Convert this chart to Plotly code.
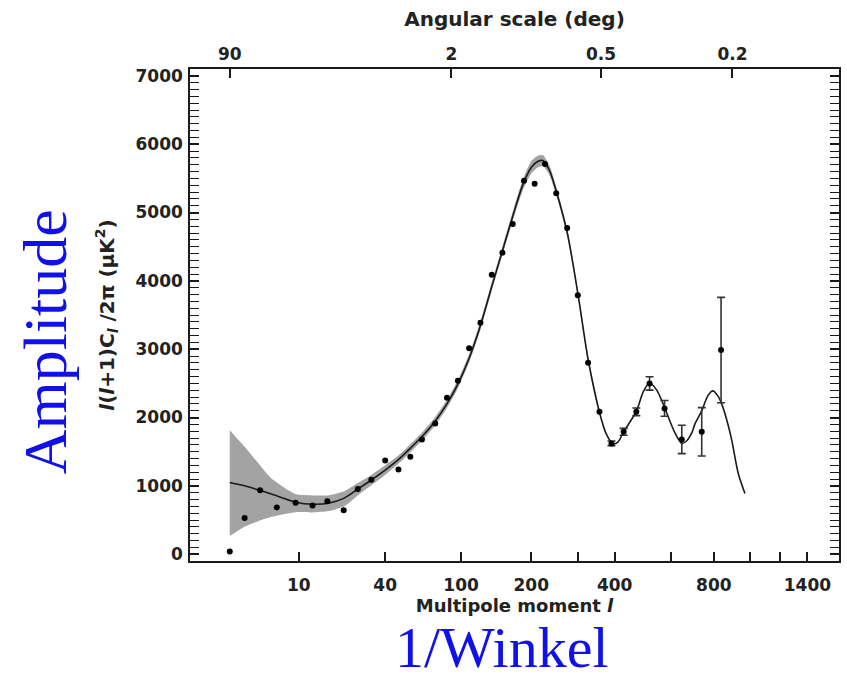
import numpy as np
import plotly.graph_objects as go

# ---- data ----
# measured band powers: multipole l, D_l = l(l+1)C_l/2pi (uK^2)
data_l = [2, 3, 4.4, 6.4, 9.4, 12.9, 16.7, 21.8, 27.1, 33, 40, 47.7, 55.5, 64, 74.9,
          85.6, 96.6, 109, 122.6, 137.4, 152.6, 168.5, 187.2, 206.3, 226.1, 249.4,
          273.6, 298.9, 325, 355.7]
data_d = [40, 531, 937, 684, 751, 713, 776, 644, 952, 1088, 1370, 1240, 1425, 1679, 1913,
          2289, 2537, 3012, 3387, 4089, 4411, 4832, 5466, 5422, 5710, 5281,
          4773, 3788, 2801, 2083]
# high-l points with visible error bars
hl_l = [390.4, 428.3, 470.4, 517.8, 575.5, 647.8, 739.7, 837.8]
hl_d = [1621, 1791, 2083, 2499, 2133, 1679, 1791, 2987]
hl_err = [35, 50, 55, 98, 115, 207, 354, 771]

# best-fit model curve and its grey uncertainty band
model_l = [2, 3, 4, 5.7, 9.4, 13, 17, 22, 27, 33, 40, 48, 56, 65, 75, 86, 97, 110, 123,
           137, 153, 170, 185, 200, 212, 222, 235, 250, 274, 300, 325, 356, 375, 395,
           410, 428, 470, 495, 518, 545, 575, 619, 648, 670, 692, 708, 740, 770, 795,
           820, 840, 870, 896, 933, 972]
model_d = [1050, 1000, 950, 880, 760, 730, 745, 820, 950, 1085, 1230, 1390, 1560, 1740,
           1950, 2210, 2500, 2900, 3360, 3900, 4450, 4990, 5400, 5660, 5745, 5760, 5620,
           5300, 4700, 3780, 2850, 2070, 1760, 1615, 1640, 1790, 2085, 2380, 2505, 2400,
           2150, 1770, 1620, 1660, 1770, 1910, 2100, 2320, 2390, 2320, 2206, 1950, 1669,
           1181, 889]
band_l = [2, 3, 4, 5.7, 9.4, 13, 17, 22, 27, 33, 40, 48, 56, 65, 75, 86, 97, 110, 123,
          137, 153, 170, 185, 200, 212, 222, 235, 250, 274, 300, 325, 356]
band_hi = [1815, 1572, 1369, 1108, 880, 860, 860, 920, 1040, 1160, 1300, 1450, 1620, 1800,
           2010, 2270, 2560, 2960, 3420, 3960, 4510, 5060, 5480, 5750, 5830, 5840, 5690,
           5360, 4750, 3820, 2890, 2100]
band_lo = [265, 400, 470, 546, 615, 610, 630, 700, 860, 1010, 1160, 1330, 1500, 1680,
           1890, 2150, 2440, 2840, 3300, 3840, 4390, 4920, 5320, 5570, 5660, 5680, 5550,
           5240, 4650, 3740, 2810, 2040]

x_ticks = [10, 40, 100, 200, 300, 400, 600, 800, 1000, 1200, 1400]
x_labels = ["10", "40", "100", "200", "", "400", "", "800", "", "", "1400"]
ang_ticks = [90, 2, 0.5, 0.2]
ang_labels = ["90", "2", "0.5", "0.2"]
y_ticks = [0, 1000, 2000, 3000, 4000, 5000, 6000, 7000]


def sc(l):
    """axis scale of the reference: position proportional to l^(1/4)"""
    return np.asarray(l, dtype=float) ** 0.25


FONT = "DejaVu Sans"
INK = "#1a1a1a"
TXT = "#222222"
TICKFONT = dict(size=17, weight="bold", color=TXT)

fig = go.Figure()

# grey band
bx = np.concatenate([sc(band_l), sc(band_l)[::-1]])
by = np.concatenate([np.array(band_hi, float), np.array(band_lo, float)[::-1]])
fig.add_trace(go.Scatter(x=bx, y=by, fill="toself", fillcolor="#a3a3a3",
                         line=dict(width=0, shape="spline", smoothing=0.6),
                         mode="lines", hoverinfo="skip", showlegend=False))
# model line
fig.add_trace(go.Scatter(x=sc(model_l), y=model_d, mode="lines",
                         line=dict(color=INK, width=1.6, shape="spline", smoothing=0.8),
                         showlegend=False))
# data points
fig.add_trace(go.Scatter(x=sc(data_l), y=data_d, mode="markers",
                         marker=dict(color="black", size=6, symbol="circle"),
                         showlegend=False))
fig.add_trace(go.Scatter(x=sc(hl_l), y=hl_d, mode="markers",
                         marker=dict(color="black", size=6, symbol="circle"),
                         error_y=dict(type="data", array=hl_err, visible=True,
                                      color="#333333", thickness=1.6, width=4),
                         showlegend=False))
# invisible trace for the top axis
fig.add_trace(go.Scatter(x=[sc(2)], y=[None], xaxis="x2", mode="markers",
                         showlegend=False, hoverinfo="skip"))

xr = [0.850, 6.386]
fig.update_layout(
    width=847, height=680,
    margin=dict(l=190, r=6, t=69, b=119),
    paper_bgcolor="white", plot_bgcolor="white",
    font=dict(family=FONT, color=INK, size=16),
    xaxis=dict(range=xr, tickvals=sc(x_ticks).tolist(), ticktext=x_labels,
               ticks="inside", ticklen=9, tickwidth=1.5, tickcolor=INK,
               showline=True, linecolor=INK, linewidth=1.5, showgrid=False,
               zeroline=False, tickfont=TICKFONT, ticklabelstandoff=8,
               title=dict(text="Multipole moment <i>l</i>",
                          font=dict(size=18, weight="bold", color=TXT), standoff=2)),
    xaxis2=dict(range=xr, overlaying="x", side="top",
                tickvals=sc([180.0 / a for a in ang_ticks]).tolist(), ticktext=ang_labels,
                ticks="inside", ticklen=9, tickwidth=1.5, tickcolor=INK,
                showline=True, linecolor=INK, linewidth=1.5, showgrid=False,
                zeroline=False, tickfont=TICKFONT,
                title=dict(text="Angular scale (deg)",
                           font=dict(size=20, weight="bold", color=TXT), standoff=12)),
    yaxis=dict(range=[-100, 7100], tickvals=y_ticks, ticks="inside", ticklen=9,
               tickwidth=1.5, tickcolor=INK, showline=True, linecolor=INK,
               linewidth=1.5, mirror="allticks", showgrid=False, zeroline=False,
               minor=dict(dtick=100, ticks="inside", ticklen=5, tickwidth=1, tickcolor=INK),
               tickfont=TICKFONT, ticklabelstandoff=2,
               title=dict(text="<i>l</i>(<i>l</i>+1)C<sub><i>l</i></sub> /2π (μK<sup>2</sup>)",
                          font=dict(size=20, weight="bold", color=TXT), standoff=16)),
)

fig.add_annotation(text="Amplitude", xref="paper", yref="paper",
                   x=-0.223, y=0.445, xanchor="center", yanchor="middle",
                   textangle=-90, showarrow=False,
                   font=dict(family="Liberation Serif", size=62, color="#1010e8"))
fig.add_annotation(text="1/Winkel", xref="paper", yref="paper",
                   x=0.481, y=-0.243, xanchor="center", yanchor="bottom",
                   showarrow=False, borderpad=0,
                   font=dict(family="Liberation Serif", size=58, color="#1010e8"))

fig.write_html("out.html")
